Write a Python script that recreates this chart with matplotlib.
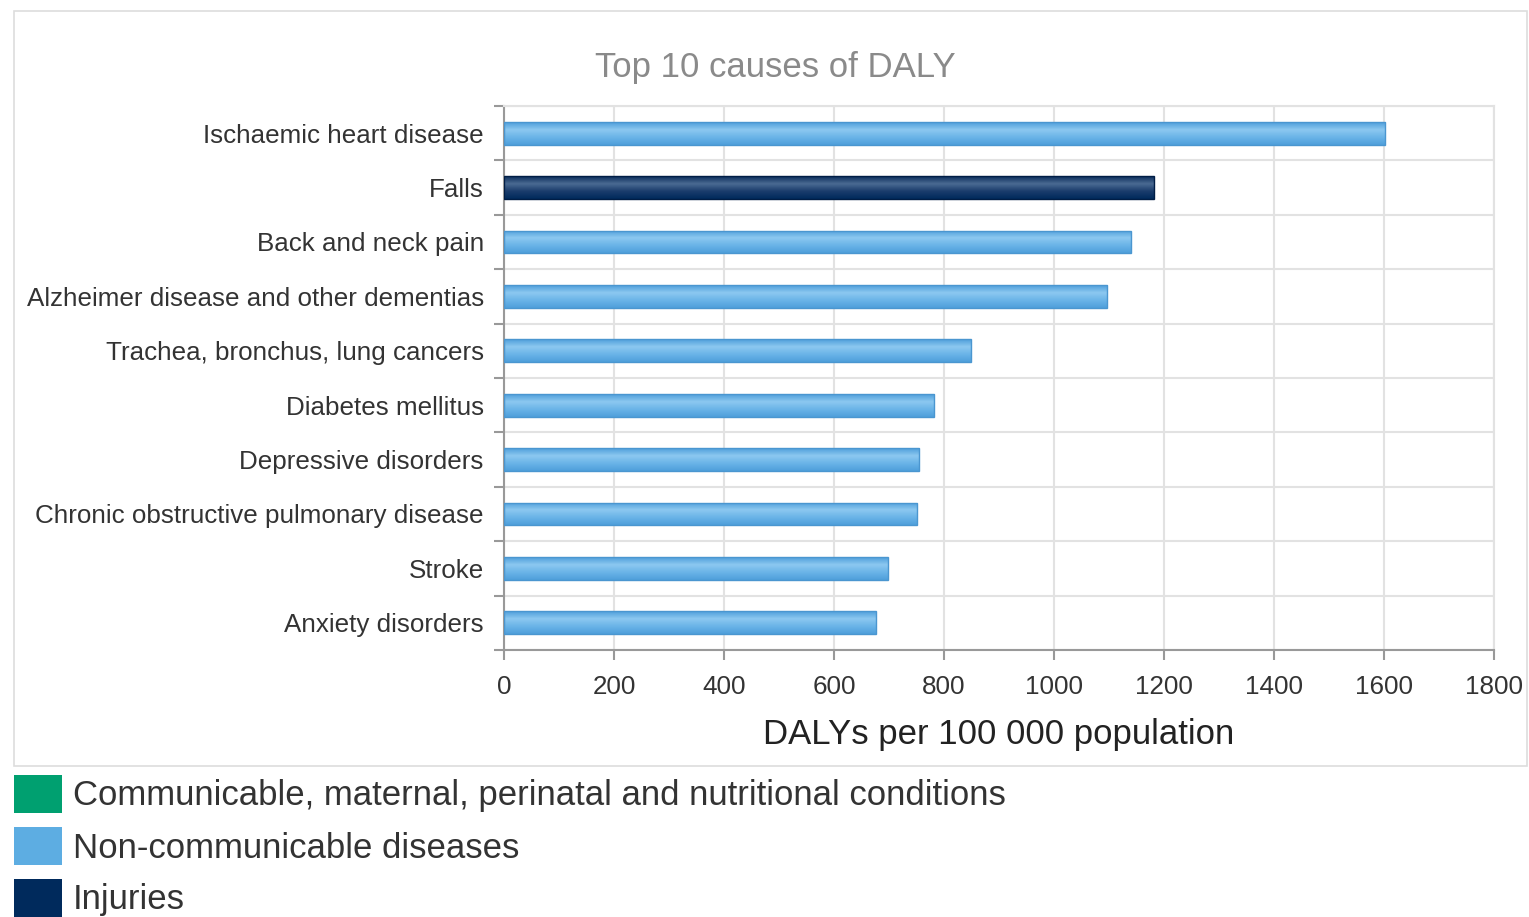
import matplotlib
matplotlib.use("Agg")
import matplotlib.pyplot as plt
import numpy as np
from matplotlib.patches import Rectangle
from matplotlib.colors import LinearSegmentedColormap

plt.rcParams['font.family'] = ['Liberation Sans', 'DejaVu Sans']

causes = ["Ischaemic heart disease", "Falls", "Back and neck pain",
          "Alzheimer disease and other dementias", "Trachea, bronchus, lung cancers",
          "Diabetes mellitus", "Depressive disorders",
          "Chronic obstructive pulmonary disease", "Stroke", "Anxiety disorders"]
values = [1602, 1181, 1140, 1097, 849, 782, 755, 751, 698, 676]
groups = ["ncd", "inj", "ncd", "ncd", "ncd", "ncd", "ncd", "ncd", "ncd", "ncd"]
xticks = [0, 200, 400, 600, 800, 1000, 1200, 1400, 1600, 1800]
legend_labels = ["Communicable, maternal, perinatal and nutritional conditions",
                 "Non-communicable diseases", "Injuries"]
legend_colors = ["#00a070", "#5dade2", "#002a5c"]

grad = {
    "ncd": (["#4f9fdb", "#8cc8f0", "#6ab4e8", "#4f9fdb"], "#4a96d0"),
    "inj": (["#0c2e5c", "#4a6a92", "#1a3c6c", "#002a5c"], "#001d45"),
}

W, H = 1529, 917
fig = plt.figure(figsize=(W / 100, H / 100), dpi=100)

# outer frame
fig.patches.append(Rectangle((14 / W, 1 - 766 / H), (1527 - 14) / W, (766 - 11) / H,
                             transform=fig.transFigure, fill=False,
                             edgecolor="#dddddd", linewidth=1.2))

ax = fig.add_axes([504 / W, 1 - 650 / H, (1494 - 504) / W, (650 - 106) / H])
n = len(causes)
ypos = np.arange(n)
bh = 0.42

for i, (v, g) in enumerate(zip(values, groups)):
    cols, edge = grad[g]
    cmap = LinearSegmentedColormap.from_list("g" + g, cols)
    bar = ax.barh(i, v, height=bh, color="none", edgecolor=edge, linewidth=1.0, zorder=3)[0]
    gimg = np.linspace(0, 1, 64).reshape(-1, 1)
    im = ax.imshow(gimg, cmap=cmap, aspect="auto",
                   extent=[0, v, i + bh / 2, i - bh / 2], zorder=2, interpolation="bilinear")
    im.set_clip_path(bar)

ax.set_ylim(n - 0.5, -0.5)
ax.set_xlim(0, 1800)

ax.set_xticks(xticks)
ax.set_xticklabels([str(t) for t in xticks], fontsize=18.7, color="#333333")
ax.set_yticks(np.arange(-0.5, n, 1.0))
ax.set_yticklabels([])
ax.set_yticks(ypos, minor=True)
ax.set_yticklabels(causes, minor=True, fontsize=18.7, color="#333333")
ax.tick_params(axis="y", which="minor", length=0, pad=14.5)
ax.tick_params(axis="y", which="major", length=7, color="#999999", width=1.5)
ax.tick_params(axis="x", which="major", length=7, color="#999999", width=1.5, pad=11)

ax.grid(True, which="major", color="#e2e2e2", linewidth=1.5, zorder=0)
ax.set_axisbelow(True)
for s in ["top", "right"]:
    ax.spines[s].set_color("#e2e2e2")
    ax.spines[s].set_linewidth(1.5)
for s in ["left", "bottom"]:
    ax.spines[s].set_color("#999999")
    ax.spines[s].set_linewidth(1.5)

ax.set_xlabel("DALYs per 100 000 population", fontsize=25, color="#222222", labelpad=14)
fig.text(775 / W, 1 - 67 / H, "Top 10 causes of DALY", fontsize=25, color="#8a8a8a",
         ha="center", va="center")

# legend
for k, (lab, col) in enumerate(zip(legend_labels, legend_colors)):
    y0 = 775 + k * 52
    fig.patches.append(Rectangle((14 / W, 1 - (y0 + 38) / H), 48 / W, 38 / H,
                                 transform=fig.transFigure, facecolor=col, edgecolor="none"))
    fig.text(73 / W, 1 - (y0 + 21) / H, lab, fontsize=25, color="#333333",
             ha="left", va="center")

fig.savefig("out.png", dpi=100)
